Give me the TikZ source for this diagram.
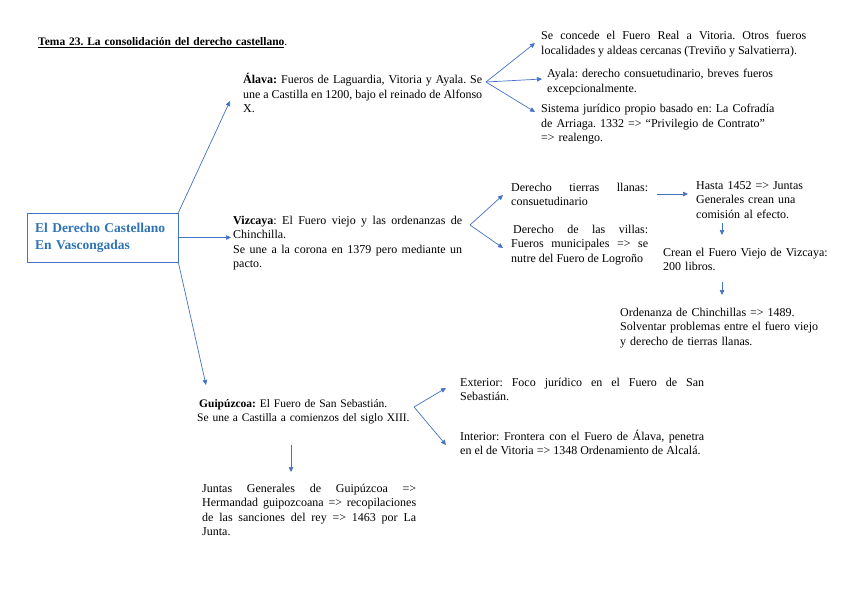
\documentclass[tikz,border=0pt]{standalone}
\usepackage{fontspec}
\setmainfont{Liberation Serif}
\usetikzlibrary{arrows.meta,calc}
\definecolor{arrblue}{RGB}{68,114,196}
\definecolor{titleblue}{RGB}{46,116,181}
\frenchspacing
\tikzset{
  txt/.style={anchor=base west, inner sep=0pt, font=\fontsize{12}{14.5}\selectfont, align=justify},
  rag/.style={anchor=base west, inner sep=0pt, font=\fontsize{12}{14.5}\selectfont, align=left},
  conn/.style={draw=arrblue, line width=0.7pt, -{Triangle[length=5pt,width=4.5pt]}},
}
\begin{document}
\begin{tikzpicture}[x=1pt,y=-1pt]
\useasboundingbox (0,0) rectangle (848,599);
\fill[white] (0,0) rectangle (848,599);

\node[rag, text width=300, font=\fontsize{11.5}{14.5}\selectfont] (title) at (38,46) {\textbf{\underline{Tema 23. La consolidación del derecho castellano}}.};

\node[draw=arrblue, line width=0.7pt, rectangle, minimum width=151, minimum height=49, inner xsep=8pt, text width=135, align=left, font=\fontsize{13.5}{17}\selectfont\bfseries, text=titleblue] (main) at (102.5,237.5) {El Derecho Castellano\\En Vascongadas};

\node[txt, text width=239] (alava) at (243,84) {\textbf{Álava:} Fueros de Laguardia, Vitoria y Ayala. Se\linebreak une a Castilla en 1200, bajo el reinado de Alfonso\linebreak X.};

\node[txt, text width=265] (a1) at (541,40) {Se concede el Fuero Real a Vitoria. Otros fueros\linebreak localidades y aldeas cercanas (Treviño y Salvatierra).};
\node[rag, text width=260] (a2) at (547,78) {Ayala: derecho consuetudinario, breves fueros\\excepcionalmente.};
\node[rag, text width=260] (a3) at (541,113) {Sistema jurídico propio basado en: La Cofradía\\de Arriaga. 1332 => “Privilegio de Contrato”\\=> realengo.};

\node[txt, text width=229] (viz) at (233,224) {\textbf{Vizcaya}: El Fuero viejo y las ordenanzas de\linebreak Chinchilla.\\Se une a la corona en 1379 pero mediante un\linebreak pacto.};

\node[txt, text width=137] (v1) at (511,191) {Derecho tierras llanas:\linebreak consuetudinario};
\node[txt, text width=137] (v2) at (511,233) {\hspace*{2pt}Derecho de las villas:\linebreak Fueros municipales => se\linebreak nutre del Fuero de Logroño};

\node[rag, text width=140] (h1) at (696,189) {Hasta 1452 => Juntas\\Generales crean una\\comisión al efecto.};
\node[rag, text width=185] (h2) at (663,256) {Crean el Fuero Viejo de Vizcaya:\\200 libros.};
\node[rag, text width=220] (h3) at (620,316) {Ordenanza de Chinchillas => 1489.\\Solventar problemas entre el fuero viejo\\y derecho de tierras llanas.};

\node[rag, text width=230, font=\fontsize{11.5}{14.5}\selectfont] (g) at (197,407) {\hspace*{2pt}\textbf{Guipúzcoa:} El Fuero de San Sebastián.\\Se une a Castilla a comienzos del siglo XIII.};
\node[txt, text width=244] (g1) at (460,386) {Exterior: Foco jurídico en el Fuero de San\linebreak Sebastián.};
\node[txt, text width=244] (g2) at (460,440) {Interior: Frontera con el Fuero de Álava, penetra\linebreak en el de Vitoria => 1348 Ordenamiento de Alcalá.};
\node[txt, text width=214] (g3) at (202,492) {Juntas Generales de Guipúzcoa =>\linebreak Hermandad guipozcoana => recopilaciones\linebreak de las sanciones del rey => 1463 por La\linebreak Junta.};

% connectors
\draw[conn] (main.north east) -- ($(alava.base west)+(-13,17)$);
\draw[conn] (main.east) -- ($(main.east -| viz.base west)+(-2,0)$);
\draw[conn] (main.south east) -- ($(g.base west)+(9,-22)$);

\coordinate (fa) at (486,82);
\draw[conn] (fa) -- ($(a1.base west)+(-6,3)$);
\draw[conn] (fa) -- ($(a2.base west)+(-5,1)$);
\draw[conn] (fa) -- ($(a3.base west)+(-6,-1)$);

\coordinate (fv) at (470,225);
\draw[conn] (fv) -- ($(v1.base west)+(-8,4)$);
\draw[conn] (fv) -- ($(v2.base west)+(-8,15)$);

\draw[conn] ($(v1.base west)+(146,3)$) -- ($(h1.base west)+(-8,5)$);
\draw[conn] ($(h1.base west)+(26,34)$) -- ($(h1.base west)+(26,46)$);
\draw[conn] ($(h2.base west)+(59,26)$) -- ($(h2.base west)+(59,39)$);

\coordinate (fg) at (414,407);
\draw[conn] (fg) -- ($(g1.base west)+(-14,2)$);
\draw[conn] (fg) -- ($(g2.base west)+(-14,5)$);
\draw[conn] ($(g.base west)+(94,38)$) -- ($(g.base west)+(94,65)$);
\end{tikzpicture}
\end{document}
